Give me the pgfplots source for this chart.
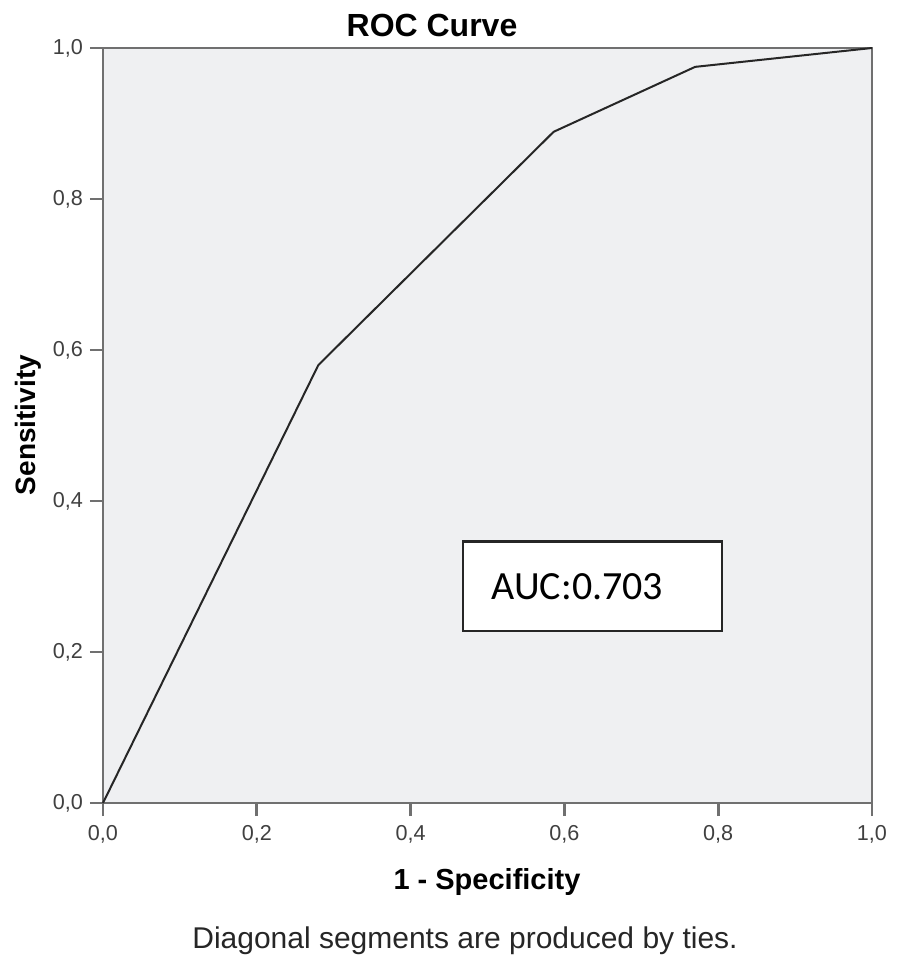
\documentclass[border=0pt]{standalone}
\usepackage{fontspec}
\setmainfont{Liberation Sans}
\newfontfamily\calib{Carlito}
\usepackage{pgfplots}
\pgfplotsset{compat=1.18}

\definecolor{plotbg}{HTML}{EFF0F2}
\definecolor{axgray}{HTML}{707070}

\begin{document}
\begin{tikzpicture}
% page = 901x955 px at 0.5pt per px, axis corner at px (103,803)
\useasboundingbox (-51.5pt,-76pt) rectangle (399pt,401.5pt);
\begin{axis}[
  at={(0,0)}, anchor=south west,
  scale only axis, width=384.5pt, height=377.5pt,
  xmin=0, xmax=1, ymin=0, ymax=1,
  xtick={0,0.2,...,1.0}, ytick={0,0.2,...,1.0},
  xticklabel style={/pgf/number format/.cd,fixed,fixed zerofill,precision=1,use comma},
  yticklabel style={/pgf/number format/.cd,fixed,fixed zerofill,precision=1,use comma},
  /pgf/number format/assume math mode=true,
  tick label style={font=\fontsize{10.8}{12}\selectfont, text=black!75},
  tick align=outside, tick pos=left,
  major tick length=6.5pt,
  every tick/.style={axgray, line width=1.4pt},
  axis line style={axgray, line width=1.4pt},
  axis background/.style={fill=plotbg},
  xticklabel shift=1pt, yticklabel shift=0pt,
  clip=false,
]
\addplot[black!85, line width=1pt] coordinates {
(0,0) (0.28,0.58) (0.586,0.889) (0.77,0.975) (1,1)
};
\draw[black!85, line width=1.3pt, fill=white]
  (axis cs:0.468,0.228) rectangle (axis cs:0.805,0.346);
\node[anchor=west, font=\calib\fontsize{20}{24}\selectfont, inner sep=0pt]
  at (axis cs:0.505,0.287) {AUC:0.703};
\end{axis}
\node[font=\bfseries\fontsize{16}{19}\selectfont] at (164.5pt,389pt) {ROC Curve};
\node[font=\bfseries\fontsize{14.5}{17}\selectfont] at (192pt,-39.5pt) {1 - Specificity};
\node[font=\bfseries\fontsize{14}{17}\selectfont, rotate=90] at (-37.5pt,189pt) {Sensitivity};
\node[font=\fontsize{15}{18}\selectfont, text=black!85] at (181pt,-69pt) {Diagonal segments are produced by ties.};
\end{tikzpicture}
\end{document}
